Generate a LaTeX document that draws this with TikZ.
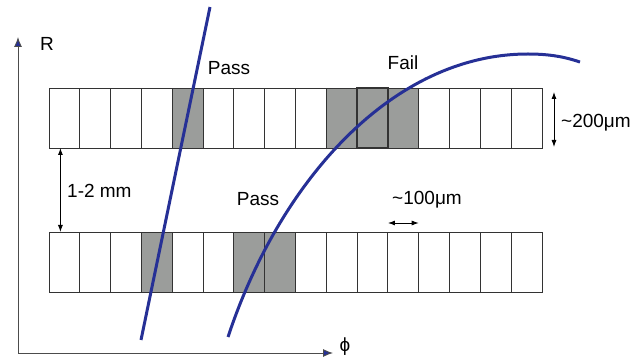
\documentclass[tikz,border=0pt]{standalone}
\usepackage{fontspec}
\setmainfont{Liberation Sans}
\usetikzlibrary{arrows.meta}

\definecolor{trackblue}{RGB}{38,48,150}
\definecolor{hitgray}{RGB}{155,157,155}

\tikzset{
  cell/.style={draw=black!80, line width=0.9pt, minimum width=30.8pt,
    minimum height=60pt, inner sep=0pt, outer sep=0pt},
  hit/.style={cell, fill=hitgray},
  track/.style={trackblue, line width=3pt},
  dim/.style={{Latex[length=7pt,width=5pt]}-{Latex[length=7pt,width=5pt]}, line width=0.9pt},
  axis/.style={black!70, line width=0.9pt,
    -{Latex[length=10pt,width=8pt,fill=trackblue]}},
  lbl/.style={font=\fontsize{19}{21}\selectfont, inner sep=0pt}
}

\begin{document}
\begin{tikzpicture}[x=1pt,y=-1pt]
\useasboundingbox (0,0) rectangle (632,358);

% axes
\coordinate (O) at (18,353);
\coordinate (Rend) at (18,37);
\coordinate (Phiend) at (333,353);
\draw[axis] (O) -- (Rend);
\draw[axis] (O) -- (Phiend);
\node[lbl] (R) at (47,44) {R};
\node[lbl] (phi) at (345,347) {ϕ};

% the two layers of strips
\foreach \i in {0,...,15} {
  \node[cell] (t\i) at ({49+30.8125*(\i+0.5)},118) {};
  \node[cell] (b\i) at ({49+30.8125*(\i+0.5)},262) {};
}
% hit strips
\foreach \i in {4,9,11} \node[hit] at (t\i) {};
\node[hit, line width=1.6pt] at (t10) {};
\foreach \i in {3,6,7} \node[hit] at (b\i) {};

% tracks
\coordinate (s1) at (141,340);
\coordinate (s2) at (210,7);
\draw[track] (s1) -- (s2);
\coordinate (c1) at (228,337);
\coordinate (c2) at (528,54);
\coordinate (c3) at (580,62);
\draw[track] (c1) .. controls (280,180) and (393,54) .. (c2)
  .. controls (550,54) and (565,57) .. (c3);

\node[lbl] (pass1) at (229,68) {Pass};
\node[lbl] (fail) at (403,63) {Fail};
\node[lbl] (pass2) at (258,199) {Pass};

% dimensions
\draw[dim] ([xshift=-4pt]t0.south) -- ([xshift=-4pt]b0.north);
\node[lbl, anchor=west] (gap) at (67,191) {1-2 mm};
\draw[dim] ([xshift=12pt,yshift=-4pt]t15.north east) -- ([xshift=12pt,yshift=1pt]t15.south east);
\node[lbl, anchor=west] (width) at (561,123) {\textasciitilde200μm};
\draw[dim] ([yshift=9pt]b11.north west) -- ([yshift=9pt]b11.north east);
\node[lbl] (pitch) at (427,200) {\textasciitilde100μm};

\end{tikzpicture}
\end{document}
